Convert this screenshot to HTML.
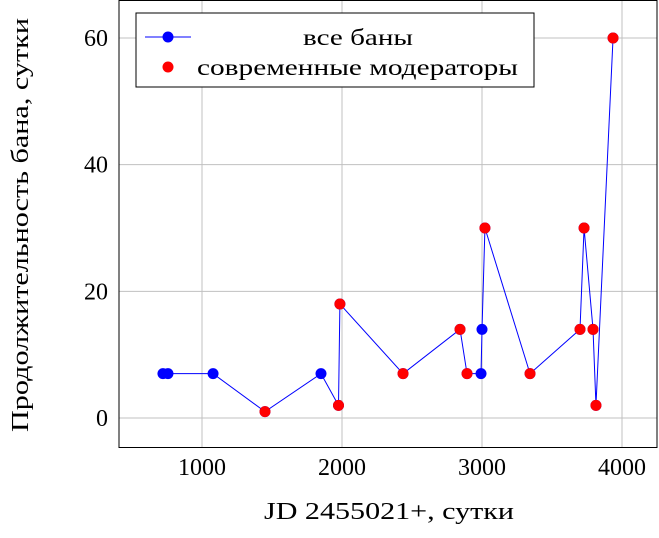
<!DOCTYPE html>
<html><head><meta charset="utf-8"><style>
body{margin:0;background:#fff;}
text{font-family:"Liberation Serif",serif;}
</style></head><body>
<svg id="chart" width="659" height="533" xmlns="http://www.w3.org/2000/svg">
<g id="grid"></g>
<g id="series"></g>
<rect x="119" y="0.5" width="538" height="447" fill="none" stroke="#000" stroke-width="1"/>
<g id="ticks"></g>
<text x="264" y="519" font-size="24" textLength="250" lengthAdjust="spacingAndGlyphs">JD 2455021+, сутки</text>
<text transform="translate(28,432) rotate(-90)" font-size="24" textLength="414" lengthAdjust="spacingAndGlyphs">Продолжительность бана, сутки</text>
<g>
<rect x="136" y="13" width="398" height="74" fill="#fff" stroke="#000"/>
<line x1="145" y1="37" x2="191" y2="37" stroke="#00f"/>
<circle cx="168" cy="37" r="5.5" fill="#00f"/>
<text x="303" y="45" font-size="23" textLength="110" lengthAdjust="spacingAndGlyphs">все баны</text>
<circle cx="168" cy="67" r="5.5" fill="#f00"/>
<text x="197" y="75" font-size="23" textLength="321" lengthAdjust="spacingAndGlyphs">современные модераторы</text>
</g>
</svg>
<script>
const xs=[721,757,1079,1450,1850,1975,1985,2436,2843,2893,2993,3000,3021,3343,3700,3729,3793,3814,3936];
const ys=[7,7,7,1,7,2,18,7,14,7,7,14,30,7,14,30,14,2,60];
const isMod=[0,0,0,1,0,1,1,1,1,1,0,0,1,1,1,1,1,1,1];
const xTicks=[1000,2000,3000,4000];
const yTicks=[0,20,40,60];
const NS="http://www.w3.org/2000/svg";
function X(v){return 202+(v-1000)*0.14;}
function Y(v){return 418-v*6.333;}
function mk(tag,at,parent){const e=document.createElementNS(NS,tag);for(const k in at)e.setAttribute(k,at[k]);document.getElementById(parent).appendChild(e);return e;}
xTicks.forEach(t=>{
 const g=mk('line',{x1:X(t),x2:X(t),y1:0,y2:447,stroke:'#c0c0c0'},'grid');
 
 
 const l=mk('text',{x:X(t),y:475,'font-size':24,'text-anchor':'middle'},'ticks');l.textContent=t;
 
 
});
yTicks.forEach(t=>{
 const g=mk('line',{x1:119,x2:657,y1:Y(t),y2:Y(t),stroke:'#c0c0c0'},'grid');
 
 
 const l=mk('text',{x:108,y:Y(t)+8,'font-size':24,'text-anchor':'end'},'ticks');l.textContent=t;
 
 
});
const pl=mk('polyline',{points:xs.map((x,i)=>X(x)+','+Y(ys[i])).join(' '),fill:'none',stroke:'#00f','stroke-width':1},'series');


xs.forEach((x,i)=>{
 const c=mk('circle',{cx:X(x),cy:Y(ys[i]),r:5.5,fill:'#00f'},'series');
 
 
});
xs.forEach((x,i)=>{ if(!isMod[i])return;
 const c=mk('circle',{cx:X(x),cy:Y(ys[i]),r:5.5,fill:'#f00'},'series');
 
 
});
</script>
</body></html>
